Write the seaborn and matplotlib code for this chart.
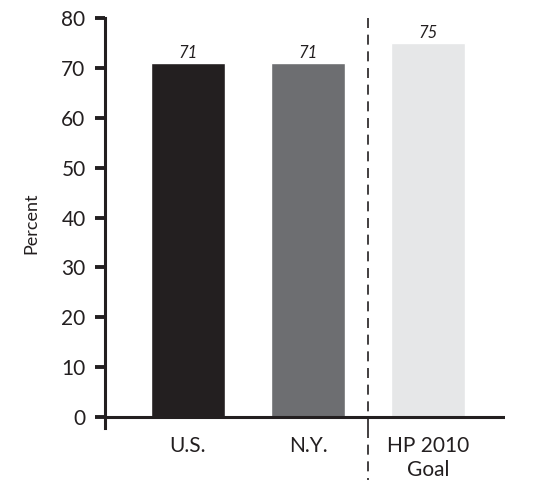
import matplotlib
matplotlib.use("Agg")
import matplotlib.pyplot as plt
import seaborn as sns
import pandas as pd

categories = ["U.S.", "N.Y.", "HP 2010\nGoal"]
percent = [71, 71, 75]
bar_colors = ["#231f20", "#6d6e71", "#e6e7e8"]

sns.set_theme(style="white")
plt.rcParams["font.family"] = ["Lato", "DejaVu Sans"]

df = pd.DataFrame({"category": categories, "percent": percent})

fig = plt.figure(figsize=(5.43, 4.8), dpi=100)
W, H = 543, 480
ax = fig.add_axes([105 / W, (480 - 428) / H, (505 - 105) / W, (428 - 18) / H])

sns.barplot(data=df, x="category", y="percent", hue="category",
            palette=bar_colors, width=0.61, legend=False, ax=ax,
            saturation=1)

for i, v in enumerate(percent):
    ax.text(i, v + 0.3, f"{v}", ha="center", va="bottom",
            fontsize=12, style="italic", color="#231f20")

ax.set_xlim(-0.69, 2.64)
ax.set_ylim(-2.2, 80)
ax.set_yticks(range(0, 81, 10))

# baseline at zero and separator before the goal bar
ax.axhline(0, color="#231f20", lw=2.2, zorder=3)
ax.axvline(1.5, ymin=0, ymax=1, color="#231f20", lw=1.2,
           linestyle=(0, (6, 4)), zorder=3)
ax.plot([1.5, 1.5], [-2.2, -20], color="#231f20", lw=1.2,
        linestyle=(0, (6, 4)), clip_on=False)

for side in ["top", "right", "bottom"]:
    ax.spines[side].set_visible(False)
ax.spines["left"].set_color("#231f20")
ax.spines["left"].set_linewidth(2.2)

ax.tick_params(axis="y", direction="out", length=7, width=2.8,
               color="#231f20", labelsize=15, labelcolor="#231f20", pad=7,
               left=True)
ax.tick_params(axis="x", length=0, labelsize=15, labelcolor="#231f20", pad=6)

ax.set_xlabel("")
ax.set_ylabel("Percent", fontsize=13, color="#231f20", labelpad=16)

fig.savefig("out.png", dpi=100)
